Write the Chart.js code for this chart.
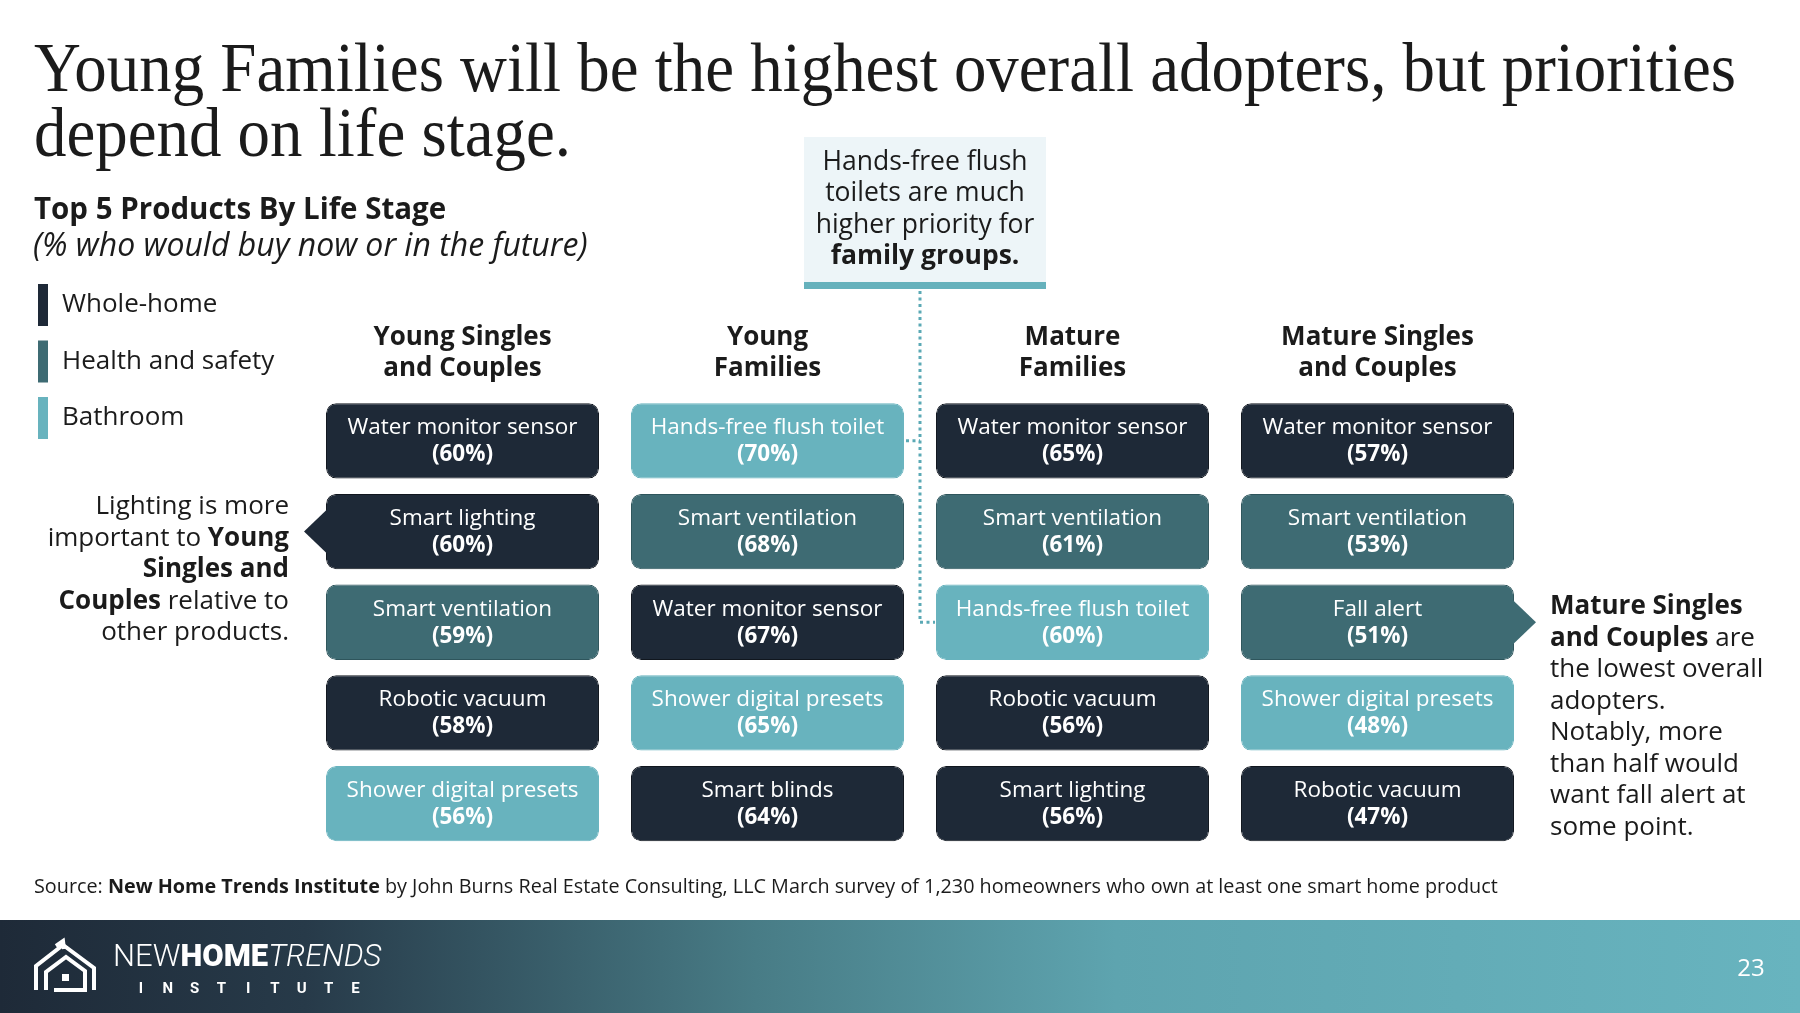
<!DOCTYPE html>
<html lang="en">
<head>
  <meta charset="UTF-8">
  <title>Top 5 Products By Life Stage</title>
  <script src="https://cdn.jsdelivr.net/npm/chart.js"></script>
  <style>
    html, body {
      margin: 0;
      padding: 0;
      background: #ffffff;
    }
    canvas {
      display: block;
    }
  </style>
</head>
<body>

<canvas id="chart" width="1800" height="1013"></canvas>

<script>
  // life stages (columns), header text split in two lines
  const lifeStages = [
    ["Young Singles", "and Couples"],
    ["Young", "Families"],
    ["Mature", "Families"],
    ["Mature Singles", "and Couples"]
  ];

  // top 5 products per life stage, ranked
  const youngSinglesProducts = ["Water monitor sensor", "Smart lighting", "Smart ventilation", "Robotic vacuum", "Shower digital presets"];
  const youngSinglesPct = [60, 60, 59, 58, 56];

  const youngFamiliesProducts = ["Hands-free flush toilet", "Smart ventilation", "Water monitor sensor", "Shower digital presets", "Smart blinds"];
  const youngFamiliesPct = [70, 68, 67, 65, 64];

  const matureFamiliesProducts = ["Water monitor sensor", "Smart ventilation", "Hands-free flush toilet", "Robotic vacuum", "Smart lighting"];
  const matureFamiliesPct = [65, 61, 60, 56, 56];

  const matureSinglesProducts = ["Water monitor sensor", "Smart ventilation", "Fall alert", "Shower digital presets", "Robotic vacuum"];
  const matureSinglesPct = [57, 53, 51, 48, 47];

  // product categories (legend)
  const categories = ["Whole-home", "Health and safety", "Bathroom"];
  const categoryColors = ["#1e2937", "#3e6b73", "#68b3be"];
  const categoryBorders = ["#10161e", "#2e555c", "#68b3be"];
  const productCategory = {
    "Water monitor sensor": 0,
    "Smart lighting": 0,
    "Robotic vacuum": 0,
    "Smart blinds": 0,
    "Smart ventilation": 1,
    "Fall alert": 1,
    "Hands-free flush toilet": 2,
    "Shower digital presets": 2
  };

  const products = [youngSinglesProducts, youngFamiliesProducts, matureFamiliesProducts, matureSinglesProducts];
  const percents = [youngSinglesPct, youngFamiliesPct, matureFamiliesPct, matureSinglesPct];

  const titleLines = ["Young Families will be the highest overall adopters, but priorities", "depend on life stage."];
  const sourceText = [["Source: ", false], ["New Home Trends Institute", true], [" by John Burns Real Estate Consulting, LLC March survey of 1,230 homeowners who own at least one smart home product", false]];
  const leftNote = [
    [["Lighting is more", false]],
    [["important to ", false], ["Young", true]],
    [["Singles and", true]],
    [["Couples", true], [" relative to", false]],
    [["other products.", false]]
  ];
  const rightNote = [
    [["Mature Singles", true]],
    [["and Couples", true], [" are", false]],
    [["the lowest overall", false]],
    [["adopters.", false]],
    [["Notably, more", false]],
    [["than half would", false]],
    [["want fall alert at", false]],
    [["some point.", false]]
  ];
  const calloutLines = [["Hands-free flush", false], ["toilets are much", false], ["higher priority for", false], ["family groups.", true]];

  const SANS = '"Open Sans", "Noto Sans", sans-serif';
  const gap = 0.085;

  const datasets = [0, 1, 2, 3, 4].map(rank => ({
    label: "Rank " + (rank + 1),
    data: lifeStages.map(() => [rank + gap, rank + 1 - gap]),
    backgroundColor: products.map(p => categoryColors[productCategory[p[rank]]]),
    borderColor: products.map(p => categoryBorders[productCategory[p[rank]]]),
    borderWidth: 1,
    borderRadius: 10,
    borderSkipped: false
  }));

  function richWidth(ctx, segs, size) {
    let w = 0;
    segs.forEach(([t, b]) => {
      ctx.font = (b ? "700 " : "400 ") + size + "px " + SANS;
      w += ctx.measureText(t).width;
    });
    return w;
  }

  function drawRich(ctx, segs, x, y, size, align, color) {
    const w = richWidth(ctx, segs, size);
    let cx = align === "right" ? x - w : (align === "center" ? x - w / 2 : x);
    ctx.textAlign = "left";
    ctx.textBaseline = "middle";
    ctx.fillStyle = color;
    segs.forEach(([t, b]) => {
      ctx.font = (b ? "700 " : "400 ") + size + "px " + SANS;
      ctx.fillText(t, cx, y);
      cx += ctx.measureText(t).width;
    });
  }

  const slidePlugin = {
    id: "slide",
    beforeDraw(chart) {
      const ctx = chart.ctx;
      ctx.save();
      ctx.fillStyle = "#ffffff";
      ctx.fillRect(0, 0, chart.width, chart.height);

      // title, serif, fitted to width
      ctx.fillStyle = "#1b1b1b";
      ctx.font = '400 69px "Liberation Serif", serif';
      ctx.textBaseline = "alphabetic";
      ctx.textAlign = "left";
      const sx = 1702 / ctx.measureText(titleLines[0]).width;
      titleLines.forEach((line, i) => {
        ctx.save();
        ctx.translate(34, 91 + i * 65);
        ctx.scale(sx, 1);
        ctx.fillText(line, 0, 0);
        ctx.restore();
      });

      // subtitle
      drawRich(ctx, [["Top 5 Products By Life Stage", true]], 34, 211, 29.5, "left", "#1b1b1b");
      ctx.font = "italic 400 32px " + SANS;
      ctx.fillStyle = "#1b1b1b";
      ctx.fillText("(% who would buy now or in the future)", 33, 247);

      // legend
      categories.forEach((c, i) => {
        const cy = 305 + i * 56.5;
        ctx.fillStyle = categoryColors[i];
        ctx.fillRect(38, cy - 21, 10, 42);
        drawRich(ctx, [[c, false]], 62, cy, 26, "left", "#1b1b1b");
      });

      // callout box
      ctx.fillStyle = "#edf5f8";
      ctx.fillRect(804, 137, 242, 152);
      ctx.fillStyle = "#65b1bc";
      ctx.fillRect(804, 282, 242, 7);
      calloutLines.forEach((l, i) => {
        drawRich(ctx, [l], 925, 162 + i * 31.5, 26.5, "center", "#1b1b1b");
      });

      // side notes
      leftNote.forEach((segs, i) => drawRich(ctx, segs, 289, 507 + i * 31.5, 26, "right", "#1b1b1b"));
      rightNote.forEach((segs, i) => drawRich(ctx, segs, 1550, 607 + i * 31.5, 26, "left", "#1b1b1b"));

      // source
      drawRich(ctx, sourceText, 34, 887, 19.8, "left", "#1b1b1b");

      // footer band
      const g = ctx.createLinearGradient(0, 0, chart.width, 0);
      g.addColorStop(0, "#1e2a38");
      g.addColorStop(0.17, "#273a49");
      g.addColorStop(0.42, "#487c86");
      g.addColorStop(0.62, "#5ea4af");
      g.addColorStop(1, "#68b4bf");
      ctx.fillStyle = g;
      ctx.fillRect(0, 920, chart.width, 93);

      // logo
      ctx.strokeStyle = "#ffffff";
      ctx.lineWidth = 4;
      ctx.lineJoin = "miter";
      ctx.beginPath();
      ctx.moveTo(36, 990); ctx.lineTo(36, 966); ctx.lineTo(63, 945); ctx.lineTo(94, 968); ctx.lineTo(94, 990);
      ctx.stroke();
      ctx.beginPath();
      ctx.moveTo(46, 990); ctx.lineTo(46, 972); ctx.lineTo(66, 957); ctx.lineTo(85, 971); ctx.lineTo(85, 990); ctx.lineTo(54, 990);
      ctx.stroke();
      ctx.beginPath();
      ctx.moveTo(56, 946); ctx.lineTo(63, 941); ctx.lineTo(64, 949);
      ctx.stroke();
      ctx.fillStyle = "#ffffff";
      ctx.fillRect(62, 974, 7, 7);

      ctx.textBaseline = "alphabetic";
      let lx = 113;
      [["NEW", "300 31px Roboto"], ["HOME", "900 31px Roboto"], ["TRENDS", "italic 300 31px Roboto"]].forEach(([t, f]) => {
        ctx.font = f;
        ctx.fillText(t, lx, 966);
        lx += ctx.measureText(t).width;
      });
      ctx.font = "700 15px Roboto";
      ctx.textAlign = "center";
      "INSTITUTE".split("").forEach((ch, i) => ctx.fillText(ch, 141 + i * 26.8, 993));

      ctx.font = "400 24px " + SANS;
      ctx.textAlign = "center";
      ctx.textBaseline = "middle";
      ctx.fillText("23", 1751, 969);
      ctx.restore();
    },
    afterDatasetsDraw(chart) {
      const ctx = chart.ctx;
      const xs = chart.scales.x;
      const top = chart.chartArea.top;
      ctx.save();

      // column headers
      lifeStages.forEach((lines, i) => {
        const x = xs.getPixelForValue(i);
        lines.forEach((l, j) => drawRich(ctx, [[l, true]], x, top - 58 + j * 31.5, 26, "center", "#1b1b1b"));
      });

      // pointer triangles
      const pointer = (stage, rank, dir) => {
        const el = chart.getDatasetMeta(rank).data[stage];
        const cy = (el.y + el.base) / 2;
        const edge = el.x + dir * el.width / 2;
        ctx.fillStyle = categoryColors[productCategory[products[stage][rank]]];
        ctx.beginPath();
        ctx.moveTo(edge - dir * 2, cy - 23);
        ctx.lineTo(edge + dir * 22, cy);
        ctx.lineTo(edge - dir * 2, cy + 23);
        ctx.closePath();
        ctx.fill();
      };
      pointer(0, 1, -1);
      pointer(3, 2, 1);

      // dotted connector from callout to the hands-free flush toilet boxes
      const a = chart.getDatasetMeta(0).data[1];
      const b = chart.getDatasetMeta(2).data[2];
      const ax = a.x + a.width / 2, ay = (a.y + a.base) / 2;
      const bx = b.x - b.width / 2, by = (b.y + b.base) / 2;
      const mx = (ax + bx) / 2;
      ctx.strokeStyle = "#5ba9b5";
      ctx.lineWidth = 3;
      ctx.setLineDash([3, 3.5]);
      ctx.beginPath();
      ctx.moveTo(mx, 291); ctx.lineTo(mx, by);
      ctx.moveTo(ax + 2, ay); ctx.lineTo(mx, ay);
      ctx.moveTo(mx, by); ctx.lineTo(bx - 1, by);
      ctx.stroke();
      ctx.setLineDash([]);

      // box labels
      products.forEach((list, stage) => {
        list.forEach((name, rank) => {
          const el = chart.getDatasetMeta(rank).data[stage];
          const cy = (el.y + el.base) / 2;
          drawRich(ctx, [[name, false]], el.x, cy - 13, 22.5, "center", "#ffffff");
          drawRich(ctx, [["(" + percents[stage][rank] + "%)", true]], el.x, cy + 14, 22.5, "center", "#ffffff");
        });
      });
      ctx.restore();
    }
  };

  new Chart(document.getElementById("chart"), {
    type: "bar",
    data: {
      labels: lifeStages,
      datasets: datasets
    },
    options: {
      responsive: false,
      devicePixelRatio: 1,
      animation: false,
      layout: {
        padding: { left: 310, right: 270, top: 395.5, bottom: 164 }
      },
      datasets: {
        bar: {
          grouped: false,
          barPercentage: 0.895,
          categoryPercentage: 1
        }
      },
      plugins: {
        legend: { display: false },
        tooltip: { enabled: false },
        title: { display: false }
      },
      scales: {
        x: { display: false },
        y: { display: false, min: 0, max: 5, reverse: true }
      }
    },
    plugins: [slidePlugin]
  });
</script>

</body>
</html>
